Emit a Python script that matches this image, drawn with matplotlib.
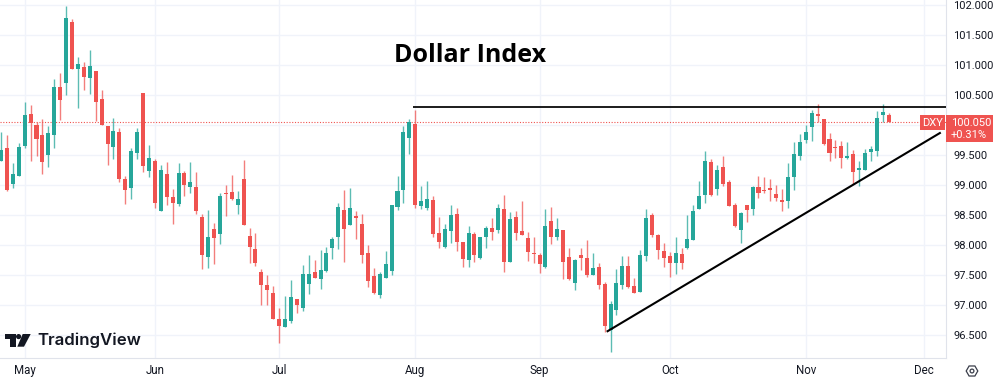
#!/usr/bin/env python3
"""DXY daily candles with the resistance line and rising trendline."""

import math

import matplotlib

matplotlib.use("Agg")
import matplotlib.pyplot as plt
from matplotlib.patches import Circle, Polygon, Rectangle, RegularPolygon

W, H = 996, 382
RED = "#ef5350"
GREEN = "#26a69a"
GRID = "#f0f3fa"
BORDER = "#e0e3eb"
TEXT = "#131722"
FONT = ["Roboto", "DejaVu Sans"]

opens = [
    99.41, 99.62, 99.03, 99.16, 99.66, 100.19, 100.01, 99.83, 99.50, 99.84,
    100.64, 100.70, 101.72, 100.94, 100.97, 100.78, 100.91, 100.44, 99.99, 99.64,
    99.89, 99.10, 98.96, 99.53, 100.54, 99.24, 99.41, 98.58, 99.19, 98.81,
    98.69, 99.21, 98.97, 98.97, 98.47, 97.81, 98.27, 98.19, 98.87, 98.89,
    98.67, 99.10, 98.16, 97.94, 97.55, 97.34, 97.20, 96.78, 96.64, 96.74,
    97.10, 96.96, 97.36, 97.55, 97.44, 97.57, 97.96, 98.14, 98.59, 98.34,
    98.49, 98.36, 97.87, 97.49, 97.17, 97.46, 97.57, 98.64, 98.92, 99.79,
    100.02, 98.65, 98.62, 98.76, 98.20, 97.97, 98.24, 98.52, 98.05, 97.75,
    98.19, 97.79, 98.14, 98.29, 98.25, 98.61, 97.72, 98.47, 98.24, 98.12,
    97.87, 97.84, 97.64, 98.41, 98.14, 98.25, 97.80, 97.37, 97.84, 97.79,
    97.50, 97.64, 97.35, 96.59, 96.92, 97.34, 97.66, 97.32, 97.23, 97.82,
    98.51, 98.17, 97.91, 97.82, 97.70, 97.86, 97.96, 98.09, 98.61, 98.84,
    99.39, 98.94, 99.31, 99.06, 98.67, 98.26, 98.67, 98.61, 98.97, 98.92,
    98.94, 98.86, 98.76, 98.74, 99.14, 99.49, 99.76, 99.97, 100.19, 100.11,
    99.77, 99.64, 99.66, 99.46, 99.52, 99.26, 99.26, 99.56, 99.57, 100.17,
    100.17,
]
highs = [
    99.89, 99.84, 99.37, 99.70, 100.38, 100.33, 100.05, 100.11, 99.98, 100.77,
    100.87, 101.98, 101.77, 101.14, 101.06, 101.26, 100.91, 100.58, 99.99, 100.12,
    99.95, 99.16, 99.62, 99.96, 100.54, 99.67, 99.43, 99.34, 99.39, 98.94,
    99.37, 99.24, 99.39, 99.22, 98.52, 98.59, 98.37, 98.88, 99.00, 99.17,
    98.90, 99.42, 98.29, 98.21, 97.61, 97.50, 97.32, 96.96, 97.16, 97.42,
    97.10, 97.67, 97.84, 97.76, 97.93, 97.97, 98.14, 98.71, 98.92, 98.96,
    98.58, 98.52, 98.00, 97.62, 97.56, 97.91, 98.68, 99.15, 99.99, 100.11,
    100.26, 98.99, 99.08, 98.83, 98.47, 98.36, 98.67, 98.63, 98.05, 98.32,
    98.22, 98.14, 98.32, 98.46, 98.69, 98.84, 98.56, 98.57, 98.74, 98.22,
    98.14, 97.87, 98.61, 98.64, 98.46, 98.26, 97.96, 97.77, 97.96, 98.09,
    97.87, 97.70, 97.39, 97.08, 97.61, 97.82, 97.82, 97.46, 97.93, 98.61,
    98.54, 98.19, 98.04, 97.89, 98.14, 97.96, 98.51, 98.67, 99.07, 99.57,
    99.44, 99.34, 99.49, 99.09, 98.70, 98.56, 98.67, 98.99, 99.15, 99.14,
    99.10, 99.00, 98.94, 99.37, 99.72, 99.86, 100.01, 100.26, 100.36, 100.11,
    99.87, 99.76, 99.74, 99.72, 99.59, 99.41, 99.61, 99.66, 100.24, 100.36,
    100.20,
]
lows = [
    99.41, 98.91, 98.96, 99.15, 99.62, 99.41, 99.48, 99.18, 99.30, 99.62,
    100.09, 100.51, 100.93, 100.28, 100.59, 100.52, 100.07, 100.01, 99.34, 99.44,
    99.05, 98.69, 98.78, 99.44, 99.22, 99.14, 98.62, 98.57, 98.67, 98.36,
    98.66, 98.82, 98.87, 98.53, 97.61, 97.62, 97.69, 98.02, 98.49, 98.76,
    98.53, 98.34, 97.71, 97.66, 97.01, 97.01, 96.77, 96.38, 96.64, 96.70,
    96.87, 96.90, 97.19, 97.46, 97.27, 97.56, 97.77, 97.94, 97.72, 98.34,
    98.11, 97.70, 97.30, 97.19, 97.12, 97.45, 97.50, 98.59, 98.71, 99.52,
    98.62, 98.61, 98.59, 98.14, 97.95, 97.96, 98.04, 97.91, 97.64, 97.64,
    97.72, 97.78, 97.96, 98.09, 98.21, 97.56, 97.72, 98.09, 98.17, 97.74,
    97.70, 97.54, 97.62, 98.02, 98.09, 97.44, 97.42, 97.26, 97.59, 97.48,
    97.50, 97.28, 96.56, 96.22, 96.84, 97.27, 97.29, 97.20, 97.22, 97.74,
    98.14, 97.77, 97.64, 97.47, 97.52, 97.61, 97.94, 98.09, 98.61, 98.71,
    98.82, 98.84, 98.99, 98.66, 98.31, 98.04, 98.39, 98.51, 98.79, 98.87,
    98.74, 98.74, 98.58, 98.62, 98.92, 99.42, 99.71, 99.74, 100.06, 99.67,
    99.41, 99.46, 99.29, 99.44, 99.03, 98.99, 99.26, 99.41, 99.49, 100.05,
    100.05,
]
closes = [
    99.59, 98.93, 99.19, 99.64, 100.17, 100.04, 99.77, 99.39, 99.87, 100.64,
    100.42, 101.78, 100.93, 101.02, 100.80, 100.98, 100.38, 100.01, 99.68, 99.91,
    99.10, 98.92, 99.57, 99.88, 99.32, 99.46, 98.71, 99.26, 98.81, 98.71,
    99.21, 99.00, 99.05, 98.58, 97.84, 98.14, 98.13, 98.83, 98.85, 98.78,
    98.78, 98.34, 97.98, 97.70, 97.34, 97.26, 96.78, 96.66, 96.78, 97.14,
    97.00, 97.52, 97.52, 97.46, 97.59, 97.87, 98.11, 98.64, 98.27, 98.62,
    98.46, 97.84, 97.40, 97.20, 97.52, 97.69, 98.67, 98.91, 99.89, 100.06,
    98.67, 98.74, 98.77, 98.19, 98.05, 98.27, 98.51, 98.05, 97.78, 98.20,
    97.84, 98.14, 98.29, 98.22, 98.63, 97.73, 98.44, 98.21, 98.18, 97.89,
    97.86, 97.69, 98.32, 98.14, 98.27, 97.73, 97.44, 97.76, 97.79, 97.50,
    97.62, 97.34, 96.65, 97.02, 97.37, 97.66, 97.31, 97.21, 97.84, 98.46,
    98.17, 97.93, 97.79, 97.70, 97.87, 97.70, 98.11, 98.58, 98.83, 99.41,
    98.84, 99.26, 99.03, 98.66, 98.32, 98.54, 98.59, 98.97, 98.87, 98.91,
    98.93, 98.79, 98.72, 99.14, 99.52, 99.72, 99.89, 100.20, 100.16, 99.69,
    99.54, 99.62, 99.46, 99.48, 99.22, 99.28, 99.54, 99.61, 100.12, 100.22,
    100.05,
]

price_ticks = [96.5, 97.0, 97.5, 98.0, 98.5, 99.0, 99.5, 100.0, 100.5, 101.0, 101.5, 102.0]
# 100.000 sits behind the price tag in the original, so it gets no label
price_labels = ["96.500", "97.000", "97.500", "98.000", "98.500", "99.000", "99.500", "",
                "100.500", "101.000", "101.500", "102.000"]
month_names = ["May", "Jun", "Jul", "Aug", "Sep", "Oct", "Nov", "Dec"]
month_bars = [4, 26, 47, 70, 91, 113, 136, 156]

last_price = 100.05
resistance_x = [69.7, 159.6]
resistance_y = [100.30, 100.30]
trend_x = [102.35, 158.8]
trend_y = [96.56, 99.88]


def fx(px):
    return px / W


def fy(py):
    return 1 - py / H


def box(fig, x0, y0, x1, y1, color):
    fig.add_artist(Rectangle((fx(x0), fy(y1)), (x1 - x0) / W, (y1 - y0) / H,
                             transform=fig.transFigure, fc=color, ec="none", zorder=5))


fig = plt.figure(figsize=(W / 100, H / 100), dpi=100, facecolor="white")
ax = fig.add_axes([0, 1 - 358 / H, 945.5 / W, 358 / H])
ax.set_xlim(-0.169, 159.6)
ax.set_ylim(96.122, 102.088)

ax.set_axisbelow(True)
ax.grid(True, color=GRID, lw=1)
for side in ("top", "left"):
    ax.spines[side].set_visible(False)
for side in ("right", "bottom"):
    ax.spines[side].set_color(BORDER)

ax.yaxis.tick_right()
ax.set_yticks(price_ticks)
ax.set_yticklabels(price_labels, fontsize=8.0, color=TEXT, family=FONT)
ax.set_xticks(month_bars)
ax.set_xticklabels(month_names, fontsize=8.3, color=TEXT, family=FONT)
ax.tick_params(axis="both", length=0)
ax.tick_params(axis="x", pad=4.5)
ax.tick_params(axis="y", pad=5.4)

ax.axhline(last_price, color=RED, lw=0.8, ls=(0, (1, 1.5)), zorder=1)

xs = list(range(len(opens)))
colors = [GREEN if c >= o else RED for o, c in zip(opens, closes)]
ax.vlines(xs, lows, highs, colors=colors, lw=1, alpha=0.75, zorder=2)
bottoms = [min(o, c) for o, c in zip(opens, closes)]
heights = [max(abs(c - o), 0.02) for o, c in zip(opens, closes)]
ax.bar(xs, heights, 0.68, bottoms, color=colors, lw=0, zorder=3)

ax.plot(resistance_x, resistance_y, color="black", lw=1.25, solid_capstyle="butt", zorder=4)
ax.plot(trend_x, trend_y, color="black", lw=1.5, solid_capstyle="butt", zorder=4)

fig.text(fx(470), fy(55), "Dollar Index", fontsize=18, fontweight="bold", color="black",
         family=["Open Sans", "DejaVu Sans"], ha="center", va="center")

# price tag on the axis
box(fig, 920, 115, 945, 130, RED)
box(fig, 946, 115, 993, 142, RED)
tag = dict(color="white", fontsize=8.0, family=FONT, ha="center", va="center", zorder=6)
fig.text(fx(932.5), fy(122.6), "DXY", **tag)
fig.text(fx(971.5), fy(122.6), "100.050", **tag)
fig.text(fx(969), fy(134.6), "+0.31%", **tag)

# TradingView mark, drawn in pixels
logo = [
    [(5, 334), (15.5, 334), (15.5, 346.7), (10, 346.7), (10, 339), (5, 339)],
    [(22.7, 334), (30.7, 334), (24, 346.7), (17.3, 346.7)],
]
for pts in logo:
    fig.add_artist(Polygon([(fx(x), fy(y)) for x, y in pts], closed=True, fc=TEXT, ec="none",
                           transform=fig.transFigure, zorder=5))
dot_x, dot_y = fx(18.6) * W, fy(336.6) * H
fig.add_artist(Circle((dot_x, dot_y), 2.6, fc=TEXT, ec="none", transform=None, zorder=5))
fig.text(fx(37), fy(345.3), "TradingView", fontsize=12.1, fontweight="semibold", color=TEXT,
         family=["Inter", "DejaVu Sans"], ha="left", va="baseline")

# settings icon under the price axis
fig.add_artist(RegularPolygon((972, H - 371), 6, radius=5.8, orientation=math.pi / 6, fc="none",
                              ec="#3a3e4a", lw=0.9, transform=None, zorder=5))
fig.add_artist(Circle((972, H - 371), 1.9, fc="none", ec="#3a3e4a", lw=0.9, transform=None, zorder=5))

fig.savefig("out.png", dpi=100)
